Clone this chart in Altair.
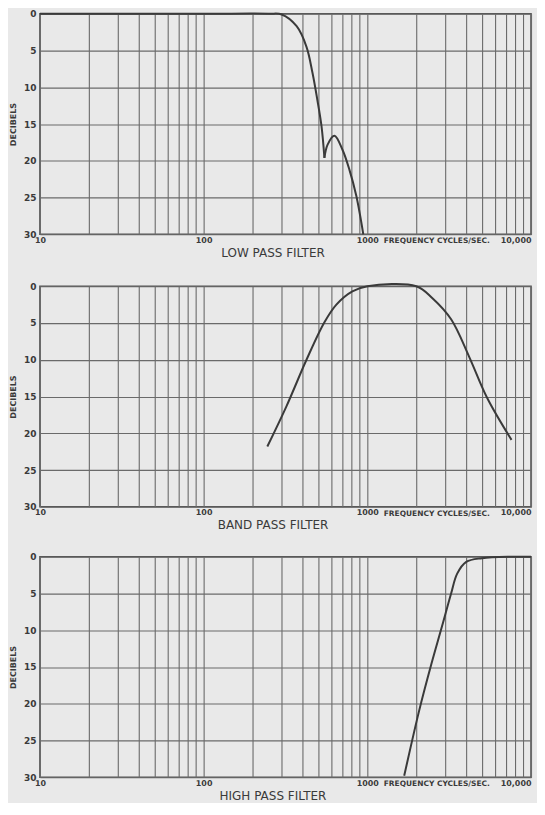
import altair as alt
import pandas as pd

# ---- data ----
lp_freq = [10, 100, 250, 300, 370, 425, 462, 495, 525, 547, 547, 572, 630, 705, 777, 857, 945]
lp_db = [0, 0, 0, 0.1, 1.7, 4.5, 8.0, 11.7, 15.3, 19.6, 19.6, 17.8, 16.6, 18.5, 21.2, 24.8, 30.0]
lp_seg = [1, 1, 1, 1, 1, 1, 1, 1, 1, 1, 2, 2, 2, 2, 2, 2, 2]

bp_freq = [245, 321, 425, 547, 647, 810, 1000, 1990, 2490, 3250, 4190, 5400, 7600]
bp_db = [21.8, 16.3, 10.0, 4.9, 2.5, 0.7, 0.0, 0.0, 1.6, 4.5, 9.6, 15.2, 20.9]

hp_freq = [1680, 2070, 2455, 2865, 3250, 3540, 4020, 5020, 7650, 10000]
hp_db = [29.8, 21.0, 14.7, 9.4, 5.0, 2.3, 0.7, 0.2, 0.0, 0.0]

titles = ["LOW PASS FILTER", "BAND PASS FILTER", "HIGH PASS FILTER"]
freq_grid = [10, 20, 30, 40, 50, 60, 70, 80, 90,
             100, 200, 300, 400, 500, 600, 700, 800, 900,
             1000, 2000, 3000, 4000, 5000, 6000, 7000, 8000, 9000, 10000]
freq_label_values = [10, 100, 1000, 10000]
freq_label_texts = ["10", "100", "1000", "10,000"]
db_ticks = [0, 5, 10, 15, 20, 25, 30]
freq_note = "FREQUENCY CYCLES/SEC."
freq_note_at = 1260

W, H = 492, 221
INK = "#3a3a3a"
GRID = "#6a6a6a"
BG = "#e9e9e9"
FONT = "DejaVu Sans"

label_expr = " : ".join(
    [f"datum.value == {v} ? '{t}'" for v, t in zip(freq_label_values, freq_label_texts)]
) + " : ''"


def panel(freqs, dbs, title, segs=None):
    df = pd.DataFrame({"f": freqs, "db": dbs, "seg": segs if segs else [1] * len(freqs)})
    xscale = alt.Scale(type="log", domain=[10, 10000], nice=False)
    yscale = alt.Scale(domain=[0, 30], reverse=True, nice=False)
    line = alt.Chart(df).mark_line(color=INK, strokeWidth=2, interpolate="catmull-rom").encode(
        x=alt.X("f:Q", scale=xscale,
                axis=alt.Axis(values=freq_grid, labelExpr=label_expr, grid=True,
                              gridColor=GRID, gridOpacity=1, gridWidth=1.1,
                              ticks=False, domain=False, labelOverlap=False,
                              labelFontSize=8, labelFontWeight="bold", labelColor=INK,
                              labelPadding=2, labelFont=FONT, labelBound=False,
                              labelFlush=False,
                              labelAlign={"condition": {"test": "datum.value >= 10000",
                                                        "value": "right"},
                                          "value": "center"},
                              title=title, titleFontSize=12, titleFont=FONT,
                              titleFontWeight="normal", titleColor=INK, titlePadding=3,
                              titleX=233)),
        y=alt.Y("db:Q", scale=yscale,
                axis=alt.Axis(values=db_ticks, grid=True, gridColor=GRID, gridOpacity=1,
                              gridWidth=1.1, ticks=False, domain=False,
                              labelFontSize=9, labelFontWeight="bold", labelColor=INK,
                              labelPadding=4, labelFont=FONT,
                              title="DECIBELS", titleFontSize=8, titleFont=FONT,
                              titleFontWeight="bold", titleColor=INK, titlePadding=6)),
        detail="seg:N",
    )
    note = alt.Chart(pd.DataFrame({"f": [freq_note_at], "t": [freq_note]})).mark_text(
        align="left", baseline="middle", fontSize=7.5, font=FONT, fontWeight="bold",
        color=INK,
    ).encode(x=alt.X("f:Q", scale=xscale), y=alt.value(H + 7), text="t:N")
    return alt.layer(line, note).properties(width=W, height=H)


chart = alt.vconcat(
    panel(lp_freq, lp_db, titles[0], lp_seg),
    panel(bp_freq, bp_db, titles[1]),
    panel(hp_freq, hp_db, titles[2]),
    spacing=20,
).properties(
    background=BG,
    padding={"left": 0, "top": 0, "right": 1, "bottom": 0},
).configure_view(stroke="#555555", strokeWidth=1.6)

chart.save("out.html", embed_options={"renderer": "svg", "actions": False})
